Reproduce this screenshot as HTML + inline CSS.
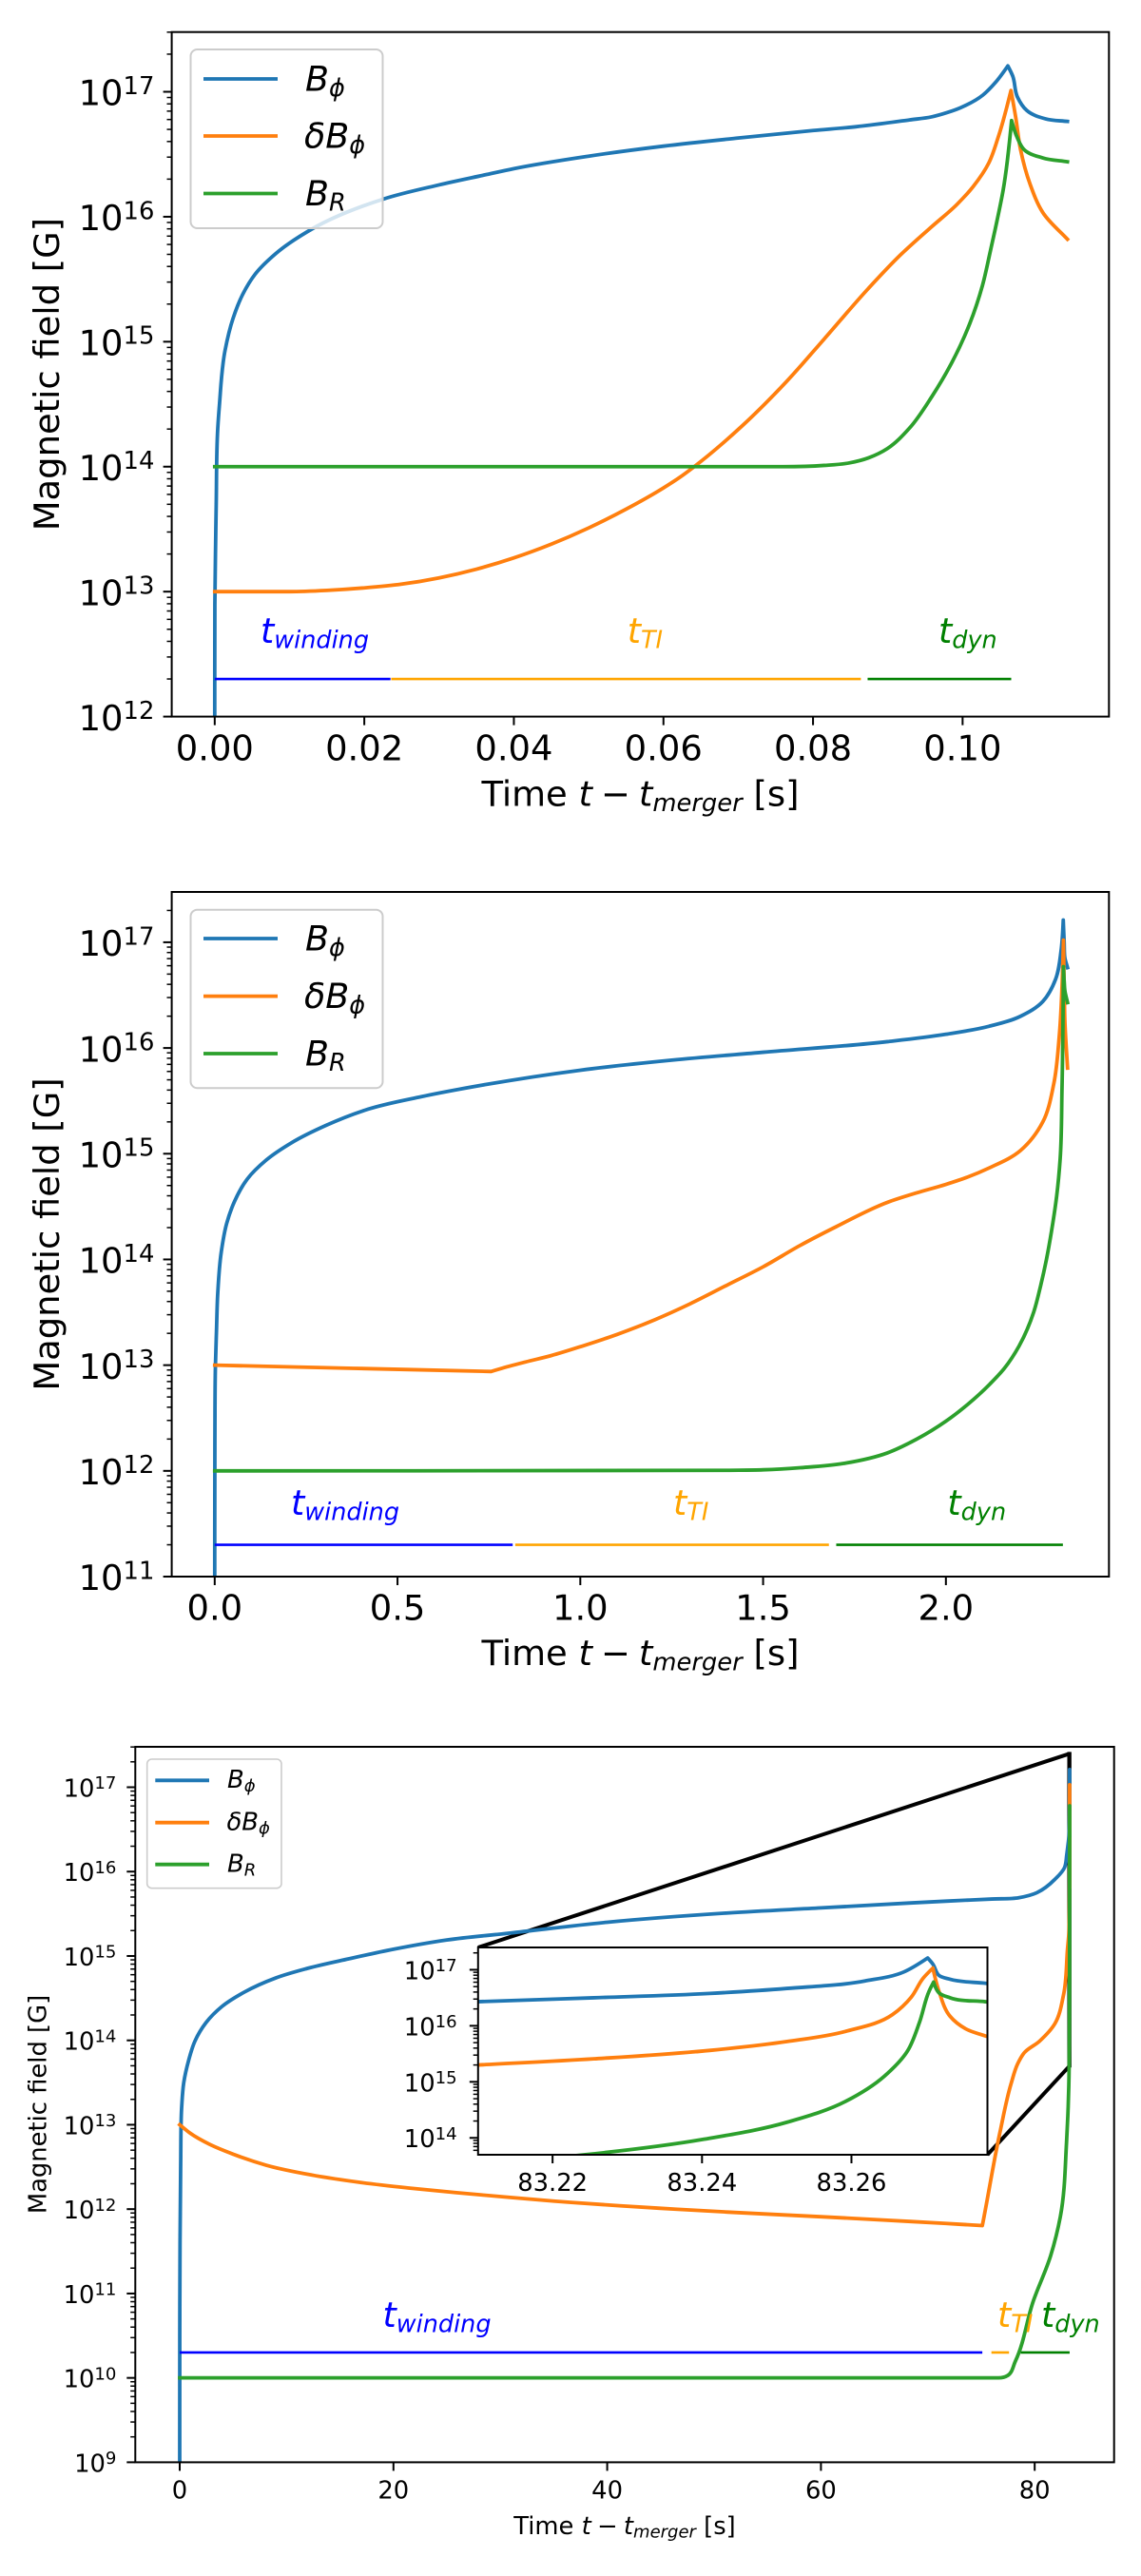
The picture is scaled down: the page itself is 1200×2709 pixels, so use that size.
<!DOCTYPE html>
<html lang="en">
<head>
<meta charset="utf-8">
<title>Magnetic field growth after merger</title>
<style>
html,body{margin:0;padding:0;background:#fff;}
svg{display:block;}
text{font-family:"DejaVu Sans","Liberation Sans",sans-serif;fill:#000;}
.big{font-size:36.4px;}
.title{font-size:36.9px;}
.small{font-size:25.8px;}
.it{font-style:italic;}
</style>
</head>
<body>
<svg id="figure" xmlns="http://www.w3.org/2000/svg" width="1200" height="2709" viewBox="0 0 1200 2709">
<defs>
  <clipPath id="clip-p1"><rect x="180.6" y="33.7" width="985.7" height="719.9"/></clipPath>
  <clipPath id="clip-p2"><rect x="180.6" y="938" width="985.7" height="720"/></clipPath>
  <clipPath id="clip-p3"><rect x="142.3" y="1837" width="1029.4" height="752.4"/></clipPath>
  <clipPath id="clip-in"><rect x="502.8" y="2048" width="535.7" height="218"/></clipPath>
</defs>
<rect width="1200" height="2709" fill="#fff"/>

<!-- TOP PANEL -->
<g id="p1">
  <g id="p1-curves" clip-path="url(#clip-p1)"></g>
  <g id="p1-phases" clip-path="url(#clip-p1)"></g>
  <text class="big" x="274" y="676" style="fill:#0000ff"><tspan class="it">t</tspan><tspan class="it" dy="5.4" font-size="25.5">winding</tspan></text>
  <text class="big" x="659.7" y="676" style="fill:#ffa500"><tspan class="it">t</tspan><tspan class="it" dy="5.4" font-size="25.5">TI</tspan></text>
  <text class="big" x="987" y="676" style="fill:#008000"><tspan class="it">t</tspan><tspan class="it" dy="5.4" font-size="25.5">dyn</tspan></text>
  <rect x="180.6" y="33.7" width="985.7" height="719.9" fill="none" stroke="#000" stroke-width="2"/>
  <g id="p1-ticks"></g>
  <text class="title" x="673.5" y="847.4" text-anchor="middle">Time <tspan class="it">t</tspan><tspan dx="9">−</tspan><tspan class="it" dx="9">t</tspan><tspan class="it" dy="5.4" font-size="25.8">merger</tspan><tspan dy="-5.4"> [s]</tspan></text>
  <text class="title" transform="translate(61.8,393.6) rotate(-90)" text-anchor="middle">Magnetic field [G]</text>
  <g>
    <rect x="200.5" y="52" width="202" height="188" rx="7" fill="#fff" fill-opacity="0.8" stroke="#ccc" stroke-width="2"/>
    <line x1="214" x2="292" y1="83" y2="83" stroke="#1f77b4" stroke-width="3.8"/>
    <text class="big" x="321" y="95.5"><tspan class="it">B</tspan><tspan class="it" dy="5.4" font-size="25.5">ϕ</tspan></text>
    <line x1="214" x2="292" y1="143" y2="143" stroke="#ff7f0e" stroke-width="3.8"/>
    <text class="big" x="320" y="155.5"><tspan class="it">δB</tspan><tspan class="it" dy="5.4" font-size="25.5">ϕ</tspan></text>
    <line x1="214" x2="292" y1="203.5" y2="203.5" stroke="#2ca02c" stroke-width="3.8"/>
    <text class="big" x="321" y="216"><tspan class="it">B</tspan><tspan class="it" dy="5.4" font-size="25.5">R</tspan></text>
  </g>
</g>

<!-- MIDDLE PANEL -->
<g id="p2">
  <g id="p2-curves" clip-path="url(#clip-p2)"></g>
  <g id="p2-phases" clip-path="url(#clip-p2)"></g>
  <text class="big" x="306" y="1593" style="fill:#0000ff"><tspan class="it">t</tspan><tspan class="it" dy="5.4" font-size="25.5">winding</tspan></text>
  <text class="big" x="708" y="1593" style="fill:#ffa500"><tspan class="it">t</tspan><tspan class="it" dy="5.4" font-size="25.5">TI</tspan></text>
  <text class="big" x="996.4" y="1593" style="fill:#008000"><tspan class="it">t</tspan><tspan class="it" dy="5.4" font-size="25.5">dyn</tspan></text>
  <rect x="180.6" y="938" width="985.7" height="720" fill="none" stroke="#000" stroke-width="2"/>
  <g id="p2-ticks"></g>
  <text class="title" x="673.5" y="1751" text-anchor="middle">Time <tspan class="it">t</tspan><tspan dx="9">−</tspan><tspan class="it" dx="9">t</tspan><tspan class="it" dy="5.4" font-size="25.8">merger</tspan><tspan dy="-5.4"> [s]</tspan></text>
  <text class="title" transform="translate(61.8,1298) rotate(-90)" text-anchor="middle">Magnetic field [G]</text>
  <g>
    <rect x="200.5" y="956.7" width="202" height="187.5" rx="7" fill="#fff" fill-opacity="0.8" stroke="#ccc" stroke-width="2"/>
    <line x1="214" x2="292" y1="987" y2="987" stroke="#1f77b4" stroke-width="3.8"/>
    <text class="big" x="321" y="999.5"><tspan class="it">B</tspan><tspan class="it" dy="5.4" font-size="25.5">ϕ</tspan></text>
    <line x1="214" x2="292" y1="1047.6" y2="1047.6" stroke="#ff7f0e" stroke-width="3.8"/>
    <text class="big" x="320" y="1060"><tspan class="it">δB</tspan><tspan class="it" dy="5.4" font-size="25.5">ϕ</tspan></text>
    <line x1="214" x2="292" y1="1108" y2="1108" stroke="#2ca02c" stroke-width="3.8"/>
    <text class="big" x="321" y="1120.5"><tspan class="it">B</tspan><tspan class="it" dy="5.4" font-size="25.5">R</tspan></text>
  </g>
</g>

<!-- BOTTOM PANEL -->
<g id="p3">
  <g id="p3-zoom" clip-path="url(#clip-p3)"></g>
  <g id="p3-curves" clip-path="url(#clip-p3)"></g>
  <g id="p3-phases" clip-path="url(#clip-p3)"></g>
  <text class="big" x="402.5" y="2447" style="fill:#0000ff"><tspan class="it">t</tspan><tspan class="it" dy="5.4" font-size="25.5">winding</tspan></text>
  <text class="big" x="1049" y="2447" style="fill:#ffa500"><tspan class="it">t</tspan><tspan class="it" dy="5.4" font-size="25.5">TI</tspan></text>
  <text class="big" x="1095" y="2447" style="fill:#008000"><tspan class="it">t</tspan><tspan class="it" dy="5.4" font-size="25.5">dyn</tspan></text>
  <rect x="142.3" y="1837" width="1029.4" height="752.4" fill="none" stroke="#000" stroke-width="2"/>
  <g id="p3-ticks"></g>
  <text class="small" x="657" y="2664.8" text-anchor="middle">Time <tspan class="it">t</tspan><tspan dx="6.3">−</tspan><tspan class="it" dx="6.3">t</tspan><tspan class="it" dy="3.9" font-size="18">merger</tspan><tspan dy="-3.9"> [s]</tspan></text>
  <text class="small" transform="translate(48.6,2213) rotate(-90)" text-anchor="middle">Magnetic field [G]</text>
  <g>
    <rect x="154.7" y="1850" width="141.3" height="135.7" rx="5" fill="#fff" fill-opacity="0.8" stroke="#ccc" stroke-width="1.6"/>
    <line x1="163.3" x2="220" y1="1872.3" y2="1872.3" stroke="#1f77b4" stroke-width="3.8"/>
    <text class="small" x="239" y="1880"><tspan class="it">B</tspan><tspan class="it" dy="3.9" font-size="18">ϕ</tspan></text>
    <line x1="163.3" x2="220" y1="1916.7" y2="1916.7" stroke="#ff7f0e" stroke-width="3.8"/>
    <text class="small" x="238.5" y="1924.5"><tspan class="it">δB</tspan><tspan class="it" dy="3.9" font-size="18">ϕ</tspan></text>
    <line x1="163.3" x2="220" y1="1960.7" y2="1960.7" stroke="#2ca02c" stroke-width="3.8"/>
    <text class="small" x="239" y="1968.5"><tspan class="it">B</tspan><tspan class="it" dy="3.9" font-size="18">R</tspan></text>
  </g>
  <g>
    <rect x="502.8" y="2048" width="535.7" height="218" fill="#fff"/>
    <g id="in-curves" clip-path="url(#clip-in)"></g>
    <rect x="502.8" y="2048" width="535.7" height="218" fill="none" stroke="#000" stroke-width="2"/>
    <g id="in-ticks"></g>
  </g>
</g>
</svg>

<script>
// ---- Values. Field values are log10(B / G), times are seconds. ----

// Top panel
const p1XTickLabels = ["0.00", "0.02", "0.04", "0.06", "0.08", "0.10"];
const p1YTickExponents = [12, 13, 14, 15, 16, 17];
const p1BphiTime = [0, .00002, .0001, .0002, .00041, .00062, .00138, .00244, .00371, .0054, .00816, .01303, .02257, .03, .03613, .04, .05, .06, .07, .08, .0857, .0929, .0959, .098, .0997, .1027, .1044, .10605, .1067, .10732, .10859, .11113, .11402];
const p1BphiLog = [12, 12.9, 13.3, 13.7, 14.31, 14.487, 14.93, 15.185, 15.375, 15.54, 15.705, 15.903, 16.142, 16.255, 16.335, 16.385, 16.485, 16.565, 16.63, 16.69, 16.72, 16.775, 16.80, 16.835, 16.872, 16.973, 17.075, 17.207, 17.126, 16.96, 16.85, 16.783, 16.763];
const p1DeltaTime = [0, .01, .015, .02, .025, .03, .035, .04, .045, .05, .055, .06, .06219, .06389, .07046, .07639, .08147, .0874, .09165, .09588, .09927, .10139, .1035, .10478, .10647, .1071, .10774, .10901, .11071, .11402];
const p1DeltaLog = [13, 13, 13.01, 13.03, 13.06, 13.11, 13.18, 13.27, 13.38, 13.51, 13.66, 13.83, 13.915, 13.99, 14.323, 14.677, 15.02, 15.426, 15.692, 15.921, 16.10, 16.24, 16.43, 16.64, 17.01, 16.796, 16.54, 16.263, 16.035, 15.82];
const p1BrTime = [0, .07, .07597, .08147, .08486, .0874, .08995, .09292, .09588, .09842, .10097, .10266, .10373, .10457, .10542, .10655, .10732, .10817, .11071, .11402];
const p1BrLog = [14, 14, 14, 14.01, 14.03, 14.07, 14.145, 14.31, 14.56, 14.817, 15.147, 15.451, 15.73, 15.959, 16.212, 16.77, 16.631, 16.54, 16.471, 16.44];
const p1PhaseLevel = [12.301];
const p1WindingSpan = [0, .0235];
const p1TiSpan = [.0236, .0864];
const p1DynSpan = [.0873, .1065];

// Middle panel
const p2XTickLabels = ["0.0", "0.5", "1.0", "1.5", "2.0"];
const p2YTickExponents = [11, 12, 13, 14, 15, 16, 17];
const p2BphiTime = [0, .0005, .002, .0048, .0083, .0179, .0327, .0543, .0889, .1409, .2103, .3057, .4183, .5657, .7391, 1, 1.25, 1.5, 1.84, 2, 2.1176, 2.204, 2.265, 2.30, 2.315, 2.321, 2.3235, 2.3255, 2.3327];
const p2BphiLog = [11, 12.3, 13, 13.32, 13.68, 14.07, 14.34, 14.55, 14.76, 14.94, 15.104, 15.27, 15.42, 15.54, 15.653, 15.79, 15.885, 15.96, 16.06, 16.13, 16.205, 16.30, 16.44, 16.65, 16.92, 17.21, 17.0, 16.85, 16.76];
const p2DeltaTime = [0, .38, .756, .78, .85, .92, 1.005, 1.1, 1.204, 1.3, 1.403, 1.5, 1.6, 1.7, 1.84, 1.92, 2.0, 2.06, 2.118, 2.204, 2.265, 2.295, 2.31, 2.319, 2.3215, 2.3235, 2.3255, 2.3327];
const p2DeltaLog = [13, 12.97, 12.94, 12.965, 13.03, 13.09, 13.18, 13.29, 13.43, 13.58, 13.76, 13.93, 14.13, 14.31, 14.54, 14.63, 14.71, 14.78, 14.865, 15.03, 15.30, 15.66, 16.11, 16.71, 17.02, 16.6, 16.25, 15.81];
const p2BrTime = [0, 1.403, 1.5, 1.602, 1.72, 1.84, 1.92, 2.0, 2.06, 2.12, 2.16, 2.2, 2.24, 2.259, 2.275, 2.289, 2.303, 2.3125, 2.3175, 2.3215, 2.3235, 2.3255, 2.3327];
const p2BrLog = [12, 12.005, 12.01, 12.03, 12.07, 12.17, 12.3, 12.47, 12.63, 12.82, 12.97, 13.18, 13.5, 13.75, 14.0, 14.27, 14.6, 14.95, 15.6, 16.77, 16.63, 16.54, 16.43];
const p2PhaseLevel = [11.301];
const p2WindingSpan = [0, .815];
const p2TiSpan = [.822, 1.68];
const p2DynSpan = [1.70, 2.32];

// Bottom panel (the last points are also what the inset shows)
const p3XTickLabels = ["0", "20", "40", "60", "80"];
const p3YTickExponents = [9, 10, 11, 12, 13, 14, 15, 16, 17];
const p3BphiTime = [0, .005, .03, .09, .18, .38, .83, 1.42, 2.46, 3.94, 6.02, 8.99, 11.95, 15.8, 20, 25, 30.8, 40, 51.3, 60, 71.7, 76, 78.5, 80.2, 81.9, 82.8, 83, 83.1, 83.21, 83.2255, 83.241, 83.2514, 83.2618, 83.267, 83.2702, 83.2709, 83.2717, 83.2732, 83.2779];
const p3BphiLog = [9, 10.5, 11.585, 12.52, 13.2, 13.5, 13.76, 13.99, 14.21, 14.40, 14.57, 14.74, 14.853, 14.966, 15.08, 15.19, 15.27, 15.40, 15.51, 15.57, 15.65, 15.675, 15.69, 15.75, 15.91, 16.05, 16.2, 16.3, 16.43, 16.5, 16.577, 16.667, 16.80, 16.96, 17.21, 17.1, 16.90, 16.83, 16.76];
const p3DeltaTime = [0, .98, 2.76, 5.13, 8.1, 12.54, 16.99, 21.44, 25.9, 30.8, 35, 40, 45, 51.3, 60, 66, 71.7, 75.1, 75.2, 76.75, 77.8, 78.4, 79, 80.45, 81.9, 82.7, 83.07, 83.21, 83.2255, 83.241, 83.2514, 83.2592, 83.2655, 83.268, 83.2696, 83.2709, 83.2717, 83.2732, 83.2753, 83.2779];
const p3DeltaLog = [13, 12.90, 12.77, 12.645, 12.52, 12.40, 12.315, 12.25, 12.195, 12.14, 12.095, 12.05, 12.01, 11.965, 11.91, 11.87, 11.83, 11.805, 11.87, 12.91, 13.49, 13.72, 13.85, 13.99, 14.2, 14.54, 15.08, 15.30, 15.41, 15.56, 15.72, 15.9, 16.2, 16.51, 16.85, 17.03, 16.62, 16.17, 15.945, 15.82];
const p3BrTime = [0, 76.6, 77.5, 78.2, 79.87, 81.5, 82.4, 82.98, 83.1, 83.19, 83.2244, 83.24, 83.2514, 83.2592, 83.2644, 83.2675, 83.2691, 83.2704, 83.271, 83.2717, 83.2732, 83.2779];
const p3BrLog = [10, 10, 10.03, 10.2, 10.91, 11.45, 11.91, 12.79, 13.1, 13.45, 13.70, 13.97, 14.28, 14.65, 15.1, 15.55, 16.06, 16.62, 16.78, 16.59, 16.5, 16.43];
const p3PhaseLevel = [10.301];
const p3WindingSpan = [0, 75.1];
const p3TiSpan = [75.95, 77.6];
const p3DynSpan = [78.7, 83.27];

// Inset
const inXTickLabels = ["83.22", "83.24", "83.26"];
const inYTickExponents = [14, 15, 16, 17];
const inXLimits = [83.21003, 83.2782];
const inYLimits = [13.699, 17.398];

// ---- Rendering ----
const NS = 'http://www.w3.org/2000/svg';
const C_BPHI = '#1f77b4', C_DELTA = '#ff7f0e', C_BR = '#2ca02c';

function make(tag, attrs) {
  const el = document.createElementNS(NS, tag);
  for (const k in attrs) el.setAttribute(k, attrs[k]);
  return el;
}
function linearScale(d0, d1, r0, r1) {
  return v => r0 + (v - d0) * (r1 - r0) / (d1 - d0);
}
// Smooth parametric curve: tangents follow the neighbouring chords in pixel
// space, are flat on plateaus, and peaks and troughs stay sharp. Every handle
// is kept inside its segment's bounding box so the curve cannot loop or sag.
function curvePath(xs, ys) {
  const n = xs.length, chord = [], tx = [], ty = [], sharp = [];
  for (let i = 0; i < n - 1; i++) {
    chord[i] = Math.max(Math.hypot(xs[i + 1] - xs[i], ys[i + 1] - ys[i]), 1e-6);
  }
  tx[0] = (xs[1] - xs[0]) / chord[0];
  ty[0] = (ys[1] - ys[0]) / chord[0];
  tx[n - 1] = (xs[n - 1] - xs[n - 2]) / chord[n - 2];
  ty[n - 1] = (ys[n - 1] - ys[n - 2]) / chord[n - 2];
  for (let i = 1; i < n - 1; i++) {
    const a = chord[i - 1], b = chord[i];
    const ay = ys[i] - ys[i - 1], by = ys[i + 1] - ys[i];
    if (ay * by < 0) { tx[i] = 1; ty[i] = 0; sharp[i] = true; continue; }
    if (ay * by === 0) { tx[i] = 1; ty[i] = 0; continue; }
    const vx = (xs[i] - xs[i - 1]) / a * b + (xs[i + 1] - xs[i]) / b * a;
    const vy = ay / a * b + by / b * a;
    const len = Math.max(Math.hypot(vx, vy), 1e-6);
    tx[i] = vx / len;
    ty[i] = vy / len;
  }
  function handle(seg, i) {
    if (sharp[i]) return 0;
    const dx = Math.abs(xs[seg + 1] - xs[seg]), dy = Math.abs(ys[seg + 1] - ys[seg]);
    let L = chord[seg] / 3;
    if (Math.abs(tx[i]) > 1e-9) L = Math.min(L, dx / Math.abs(tx[i]));
    if (Math.abs(ty[i]) > 1e-9) L = Math.min(L, dy / Math.abs(ty[i]));
    return L;
  }
  let p = 'M' + xs[0].toFixed(2) + ' ' + ys[0].toFixed(2);
  for (let i = 0; i < n - 1; i++) {
    const c0 = handle(i, i);
    const c1 = handle(i, i + 1);
    p += 'C' + (xs[i] + tx[i] * c0).toFixed(2) + ' ' + (ys[i] + ty[i] * c0).toFixed(2) + ' ' +
         (xs[i + 1] - tx[i + 1] * c1).toFixed(2) + ' ' + (ys[i + 1] - ty[i + 1] * c1).toFixed(2) + ' ' +
         xs[i + 1].toFixed(2) + ' ' + ys[i + 1].toFixed(2);
  }
  return p;
}
function drawCurve(group, times, values, xScale, yScale, color, name, tMin, tMax) {
  let first = 0, last = times.length - 1;
  if (tMin !== undefined) {
    while (first < last && times[first + 1] < tMin) first++;
    while (last > first && times[last - 1] > tMax) last--;
  }
  const xs = [], ys = [];
  for (let i = first; i <= last; i++) {
    xs.push(xScale(times[i]));
    ys.push(yScale(values[i]));
  }
  const el = make('path', { d: curvePath(xs, ys), fill: 'none', stroke: color, 'stroke-width': 3.8, 'stroke-linejoin': 'round', 'stroke-linecap': 'square' });
  
  
  group.appendChild(el);
}
function drawPhase(group, span, level, xScale, yScale, color, name) {
  const el = make('line', { x1: xScale(span[0]), x2: xScale(span[1]), y1: yScale(level[0]), y2: yScale(level[0]), stroke: color, 'stroke-width': 2.6 });
  
  
  group.appendChild(el);
}
function drawTick(group, x1, y1, x2, y2, width, name) {
  const el = make('line', { x1: x1, y1: y1, x2: x2, y2: y2, stroke: '#000', 'stroke-width': width });
  
  
  group.appendChild(el);
}
function drawAxes(group, box, xLabels, yExponents, xScale, yScale, fontSize) {
  xLabels.forEach(label => {
    const px = xScale(parseFloat(label));
    drawTick(group, px, box.bottom, px, box.bottom + 9, 2, 'x-tick');
    const t = make('text', { x: px, y: box.xLabelY, 'text-anchor': 'middle', 'font-size': fontSize });
    t.textContent = label;
    
    
    group.appendChild(t);
  });
  for (let e = Math.floor(box.yMin); e <= Math.ceil(box.yMax); e++) {
    for (let k = 2; k <= 9; k++) {
      const v = e + Math.log10(k);
      if (v < box.yMin || v > box.yMax) continue;
      const py = yScale(v);
      drawTick(group, box.left, py, box.left - 5.1, py, 1.5, 'y-minor-tick');
    }
  }
  yExponents.forEach(e => {
    const py = yScale(e);
    drawTick(group, box.left, py, box.left - 9, py, 2, 'y-tick');
    const t = make('text', { x: box.yLabelX, y: py + fontSize * 0.385, 'text-anchor': 'end', 'font-size': fontSize });
    const base = make('tspan', {});
    base.textContent = '10';
    const sup = make('tspan', { dy: -fontSize * 0.32, 'font-size': fontSize * 0.7 });
    sup.textContent = String(e);
    t.appendChild(base);
    t.appendChild(sup);
    
    
    group.appendChild(t);
  });
}

// Top panel
const box1 = { left: 180.6, right: 1166.3, top: 33.7, bottom: 753.6, yMin: 12, yMax: 17.478, xLabelY: 799.7, yLabelX: 162.4 };
const x1 = linearScale(-0.00575, 0.11957, box1.left, box1.right);
const y1 = linearScale(box1.yMin, box1.yMax, box1.bottom, box1.top);
const g1 = document.getElementById('p1-curves');
drawCurve(g1, p1BphiTime, p1BphiLog, x1, y1, C_BPHI, 'curve-bphi');
drawCurve(g1, p1DeltaTime, p1DeltaLog, x1, y1, C_DELTA, 'curve-delta-bphi');
drawCurve(g1, p1BrTime, p1BrLog, x1, y1, C_BR, 'curve-br');
const ph1 = document.getElementById('p1-phases');
drawPhase(ph1, p1WindingSpan, p1PhaseLevel, x1, y1, '#0000ff', 'phase-bar-winding');
drawPhase(ph1, p1TiSpan, p1PhaseLevel, x1, y1, '#ffa500', 'phase-bar-ti');
drawPhase(ph1, p1DynSpan, p1PhaseLevel, x1, y1, '#008000', 'phase-bar-dyn');
drawAxes(document.getElementById('p1-ticks'), box1, p1XTickLabels, p1YTickExponents, x1, y1, 36.9);

// Middle panel
const box2 = { left: 180.6, right: 1166.3, top: 938, bottom: 1658, yMin: 11, yMax: 17.476, xLabelY: 1703.6, yLabelX: 162.4 };
const x2 = linearScale(-0.1176, 2.446, box2.left, box2.right);
const y2 = linearScale(box2.yMin, box2.yMax, box2.bottom, box2.top);
const g2 = document.getElementById('p2-curves');
drawCurve(g2, p2BphiTime, p2BphiLog, x2, y2, C_BPHI, 'curve-bphi');
drawCurve(g2, p2DeltaTime, p2DeltaLog, x2, y2, C_DELTA, 'curve-delta-bphi');
drawCurve(g2, p2BrTime, p2BrLog, x2, y2, C_BR, 'curve-br');
const ph2 = document.getElementById('p2-phases');
drawPhase(ph2, p2WindingSpan, p2PhaseLevel, x2, y2, '#0000ff', 'phase-bar-winding');
drawPhase(ph2, p2TiSpan, p2PhaseLevel, x2, y2, '#ffa500', 'phase-bar-ti');
drawPhase(ph2, p2DynSpan, p2PhaseLevel, x2, y2, '#008000', 'phase-bar-dyn');
drawAxes(document.getElementById('p2-ticks'), box2, p2XTickLabels, p2YTickExponents, x2, y2, 36.9);

// Bottom panel
const box3 = { left: 142.3, right: 1171.7, top: 1837, bottom: 2589.4, yMin: 9, yMax: 17.479, xLabelY: 2627.5, yLabelX: 122.4 };
const x3 = linearScale(-4.155, 87.43, box3.left, box3.right);
const y3 = linearScale(box3.yMin, box3.yMax, box3.bottom, box3.top);
const boxIn = { left: 502.8, right: 1038.5, top: 2048, bottom: 2266, yMin: inYLimits[0], yMax: inYLimits[1], xLabelY: 2304, yLabelX: 480.6 };
const xIn = linearScale(inXLimits[0], inXLimits[1], boxIn.left, boxIn.right);
const yIn = linearScale(inYLimits[0], inYLimits[1], boxIn.bottom, boxIn.top);

const zoomGroup = document.getElementById('p3-zoom');
const zoomRect = make('rect', { x: x3(inXLimits[0]), y: y3(inYLimits[1]), width: x3(inXLimits[1]) - x3(inXLimits[0]), height: y3(inYLimits[0]) - y3(inYLimits[1]), fill: 'none', stroke: '#000', 'stroke-width': 3.6 });


zoomGroup.appendChild(zoomRect);
const connectorTop = make('line', { x1: boxIn.left, y1: boxIn.top, x2: x3(inXLimits[1]), y2: y3(inYLimits[1]), stroke: '#000', 'stroke-width': 4 });


zoomGroup.appendChild(connectorTop);
const connectorBottom = make('line', { x1: boxIn.right, y1: boxIn.bottom, x2: x3(inXLimits[1]), y2: y3(inYLimits[0]), stroke: '#000', 'stroke-width': 4 });


zoomGroup.appendChild(connectorBottom);

const g3 = document.getElementById('p3-curves');
drawCurve(g3, p3BphiTime, p3BphiLog, x3, y3, C_BPHI, 'curve-bphi');
drawCurve(g3, p3DeltaTime, p3DeltaLog, x3, y3, C_DELTA, 'curve-delta-bphi');
drawCurve(g3, p3BrTime, p3BrLog, x3, y3, C_BR, 'curve-br');
const ph3 = document.getElementById('p3-phases');
drawPhase(ph3, p3WindingSpan, p3PhaseLevel, x3, y3, '#0000ff', 'phase-bar-winding');
drawPhase(ph3, p3TiSpan, p3PhaseLevel, x3, y3, '#ffa500', 'phase-bar-ti');
drawPhase(ph3, p3DynSpan, p3PhaseLevel, x3, y3, '#008000', 'phase-bar-dyn');
drawAxes(document.getElementById('p3-ticks'), box3, p3XTickLabels, p3YTickExponents, x3, y3, 25.8);

// Inset
const gIn = document.getElementById('in-curves');
drawCurve(gIn, p3BphiTime, p3BphiLog, xIn, yIn, C_BPHI, 'inset-curve-bphi', inXLimits[0], inXLimits[1]);
drawCurve(gIn, p3DeltaTime, p3DeltaLog, xIn, yIn, C_DELTA, 'inset-curve-delta-bphi', inXLimits[0], inXLimits[1]);
drawCurve(gIn, p3BrTime, p3BrLog, xIn, yIn, C_BR, 'inset-curve-br', inXLimits[0], inXLimits[1]);
drawAxes(document.getElementById('in-ticks'), boxIn, inXTickLabels, inYTickExponents, xIn, yIn, 25.8);
</script>
</body>
</html>
